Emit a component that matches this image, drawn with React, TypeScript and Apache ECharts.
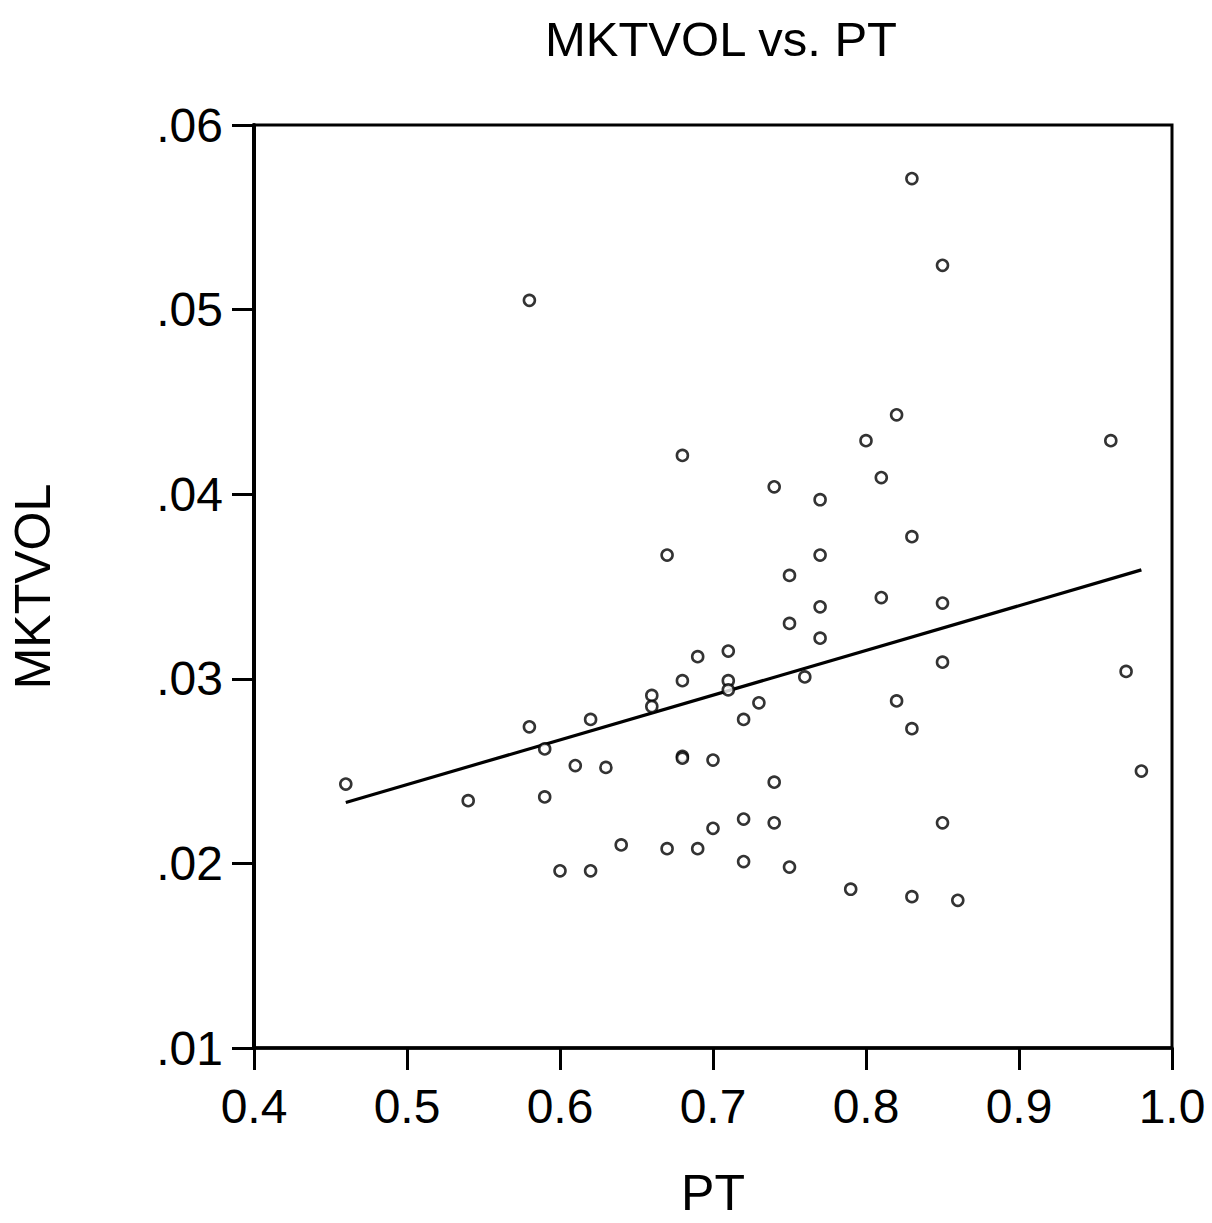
import React, { useEffect, useRef } from "react";
import * as echarts from "echarts";

const ptValues: number[] = [
  0.46, 0.54, 0.58, 0.58, 0.59, 0.59, 0.60, 0.61, 0.62, 0.62,
  0.63, 0.64, 0.66, 0.66, 0.67, 0.67, 0.68, 0.68, 0.68, 0.68,
  0.69, 0.69, 0.70, 0.70, 0.71, 0.71, 0.71, 0.72, 0.72, 0.72,
  0.73, 0.74, 0.74, 0.74, 0.75, 0.75, 0.75, 0.76, 0.77, 0.77,
  0.77, 0.77, 0.79, 0.80, 0.81, 0.81, 0.82, 0.82, 0.83, 0.83,
  0.83, 0.83, 0.85, 0.85, 0.85, 0.85, 0.86, 0.96, 0.97, 0.98,
];
const mktvolValues: number[] = [
  0.0243, 0.0234, 0.0505, 0.0274, 0.0262, 0.0236, 0.0196, 0.0253, 0.0278, 0.0196,
  0.0252, 0.0210, 0.0291, 0.0285, 0.0367, 0.0208, 0.0421, 0.0299, 0.0258, 0.0257,
  0.0312, 0.0208, 0.0256, 0.0219, 0.0315, 0.0299, 0.0294, 0.0278, 0.0224, 0.0201,
  0.0287, 0.0404, 0.0244, 0.0222, 0.0356, 0.0330, 0.0198, 0.0301, 0.0397, 0.0367,
  0.0339, 0.0322, 0.0186, 0.0429, 0.0409, 0.0344, 0.0443, 0.0288, 0.0571, 0.0377,
  0.0273, 0.0182, 0.0524, 0.0341, 0.0309, 0.0222, 0.0180, 0.0429, 0.0304, 0.0250,
];

const fitX: number[] = [0.46, 0.98];
const fitY: number[] = [0.0233, 0.0359];

const xTickLabels: string[] = ["0.4", "0.5", "0.6", "0.7", "0.8", "0.9", "1.0"];
const yTickLabels: string[] = [".01", ".02", ".03", ".04", ".05", ".06"];

const FONT = "'Liberation Sans', Arial, sans-serif";

export default function App() {
  const ref = useRef<HTMLDivElement>(null);
  useEffect(() => {
    if (!ref.current) return;
    const chart = echarts.init(ref.current, undefined, { renderer: "svg" });
    const scatterData = ptValues.map((x, i) => [x, mktvolValues[i]]);
    const lineData = fitX.map((x, i) => [x, fitY[i]]);
    chart.setOption({
      animation: false,
      backgroundColor: "#ffffff",
      title: {
        text: "MKTVOL vs. PT",
        left: 716,
        textAlign: "center",
        top: 9,
        textStyle: {
          fontFamily: FONT,
          fontSize: 49,
          fontWeight: "normal",
          color: "#000",
        },
      },
      grid: {
        left: 253,
        right: 40,
        top: 125,
        bottom: 170,
        show: true,
        borderColor: "#000",
        borderWidth: 3,
        backgroundColor: "transparent",
      },
      xAxis: {
        type: "value",
        min: 0.4,
        max: 1.0,
        interval: 0.1,
        name: "PT",
        nameLocation: "middle",
        nameGap: 120,
        nameTextStyle: { fontFamily: FONT, fontSize: 50, color: "#000" },
        axisLine: { show: true, lineStyle: { color: "#000", width: 3.5 } },
        axisTick: { show: true, inside: false, length: 22, lineStyle: { color: "#000", width: 3 } },
        axisLabel: {
          margin: 34,
          fontFamily: FONT,
          fontSize: 48,
          color: "#000",
          formatter: (v: number) => xTickLabels[Math.round((v - 0.4) / 0.1)] ?? v.toFixed(1),
        },
        splitLine: { show: false },
      },
      yAxis: {
        type: "value",
        min: 0.01,
        max: 0.06,
        interval: 0.01,
        name: "MKTVOL",
        nameLocation: "middle",
        nameGap: 196,
        nameRotate: 90,
        nameTextStyle: { fontFamily: FONT, fontSize: 50, color: "#000" },
        axisLine: { show: true, lineStyle: { color: "#000", width: 4 } },
        axisTick: { show: true, inside: false, length: 22, lineStyle: { color: "#000", width: 3 } },
        axisLabel: {
          margin: 31,
          fontFamily: FONT,
          fontSize: 48,
          color: "#000",
          formatter: (v: number) => yTickLabels[Math.round((v - 0.01) / 0.01)] ?? String(v),
        },
        splitLine: { show: false },
      },
      series: [
        {
          type: "scatter",
          data: scatterData,
          symbol: "circle",
          symbolSize: 11,
          itemStyle: { color: "#ffffff", borderColor: "#000", borderWidth: 2.6 },
          z: 3,
        },
        {
          type: "line",
          data: lineData,
          symbol: "none",
          lineStyle: { color: "#000", width: 3.2 },
          z: 2,
        },
      ],
    });
    return () => chart.dispose();
  }, []);
  return (
    <div
      ref={ref}
      style={{ position: "absolute", left: 0, top: 0, width: 1212, height: 1223, background: "#fff" }}
    />
  );
}
